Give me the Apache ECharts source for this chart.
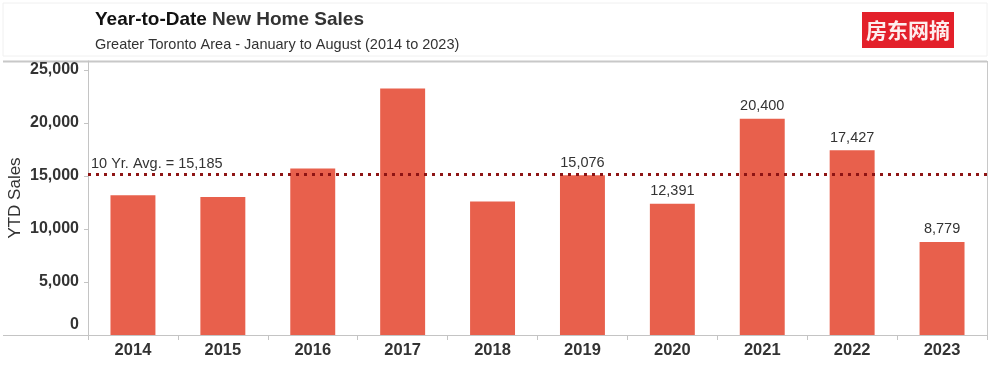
<!DOCTYPE html>
<html><head><meta charset="utf-8">
<script src="https://cdn.jsdelivr.net/npm/echarts@6/dist/echarts.min.js"></script>
<style>html,body{margin:0;padding:0;background:#fff}#c{width:1000px;height:387px}</style>
</head><body><div id="c"></div>
<script>
var years = ['2014','2015','2016','2017','2018','2019','2020','2021','2022','2023'];
var sales = [13180, 13030, 15710, 23260, 12597, 15076, 12391, 20400, 17427, 8779];
var labeledYears = ['2019','2020','2021','2022','2023'];
var average = 15185;
var yTicks = [0, 5000, 10000, 15000, 20000, 25000];
var titleMain = ['Year-to-Date', 'New Home Sales'];
var subtitle = 'Greater Toronto Area - January to August (2014 to 2023)';
var badge = '房东网摘';

function fmt(v){ return Math.round(v).toString().replace(/\B(?=(\d{3})+(?!\d))/g, ','); }
var FONT = '"Liberation Sans", Arial, Helvetica, sans-serif';
var chart = echarts.init(document.getElementById('c'), null, {renderer:'canvas'});
chart.setOption({
  animation: false,
  backgroundColor: '#fff',
  textStyle: {fontFamily: FONT},
  title: {
    left: 95, top: 10, padding: 0,
    text: '{a|' + titleMain[0] + '} {b|' + titleMain[1] + '}',
    textStyle: {
      rich: {
        a: {fontSize: 19, fontWeight: 'bold', color: '#111', fontFamily: FONT},
        b: {fontSize: 19, fontWeight: 'bold', color: '#333', fontFamily: FONT}
      }
    },
    subtext: subtitle,
    itemGap: 8,
    subtextStyle: {fontSize: 14.5, color: '#333', fontFamily: FONT}
  },
  grid: {left: 88, right: 13, top: 61, bottom: 52, containLabel: false, outerBoundsMode: 'none'},
  xAxis: {
    type: 'category', data: years,
    axisLine: {show: true, lineStyle: {color: '#c4c4c4', width: 1}},
    axisTick: {show: true, alignWithLabel: false, length: 5, lineStyle: {color: '#c4c4c4'}},
    axisLabel: {fontSize: 16.5, fontWeight: 'bold', color: '#333', margin: 7, fontFamily: FONT},
    splitLine: {show: false}
  },
  yAxis: {
    type: 'value', min: 0, max: 25850, interval: 5000,
    name: 'YTD Sales', nameLocation: 'middle', nameGap: 64, nameRotate: 90, nameMoveOverlap: false,
    nameTextStyle: {fontSize: 17, color: '#333', fontFamily: FONT},
    axisLine: {show: true, lineStyle: {color: '#c4c4c4'}},
    axisTick: {show: true, length: 4, lineStyle: {color: '#c4c4c4'}},
    splitLine: {show: false},
    axisLabel: {
      showMaxLabel: false,
      fontSize: 16, fontWeight: 'bold', color: '#333', margin: 9, fontFamily: FONT,
      formatter: function(v){
        if (yTicks.indexOf(v) < 0) return '';
        return v === 0 ? '{z|0}' : fmt(v);
      },
      rich: {z: {fontSize: 16, fontWeight: 'bold', color: '#333', padding: [0,0,20,0], fontFamily: FONT}}
    }
  },
  series: [{
    type: 'bar',
    data: sales.map(function(v, i){
      return {value: v, label: {show: labeledYears.indexOf(years[i]) >= 0}};
    }),
    barWidth: '50%',
    itemStyle: {color: '#e8604c'},
    label: {
      position: 'top', distance: 5, fontSize: 14.5, color: '#333', fontFamily: FONT,
      formatter: function(p){ return fmt(p.value); }
    },
    markLine: {
      silent: true, symbol: ['none','none'],
      lineStyle: {color: '#8e1414', width: 3, type: [3, 5]},
      label: {
        show: true, position: 'insideStartTop', distance: [3, 3],
        formatter: '10 Yr. Avg. = ' + fmt(average),
        fontSize: 14.5, color: '#333', fontFamily: FONT
      },
      data: [{yAxis: average}]
    }
  }],
  graphic: [
    {type: 'rect', shape: {x: 3, y: 3, width: 984, height: 53}, style: {fill: 'none', stroke: '#f0f0f0', lineWidth: 1}, z: 0},
    {type: 'line', shape: {x1: 3, y1: 61.5, x2: 987, y2: 61.5}, style: {stroke: '#c8c8c8', lineWidth: 2}},
    {type: 'line', shape: {x1: 987.5, y1: 61, x2: 987.5, y2: 340}, style: {stroke: '#c8c8c8', lineWidth: 1}},
    {type: 'line', shape: {x1: 3, y1: 335.5, x2: 88, y2: 335.5}, style: {stroke: '#c4c4c4', lineWidth: 1}},
    {type: 'rect', shape: {x: 862, y: 12, width: 92, height: 36}, style: {fill: '#e3202a'}},
    {type: 'text', x: 908, y: 30, style: {text: badge, fill: '#fdeeee', font: 'bold 21px "Noto Sans CJK SC", sans-serif', textAlign: 'center', textVerticalAlign: 'middle'}}
  ]
});
</script></body></html>
